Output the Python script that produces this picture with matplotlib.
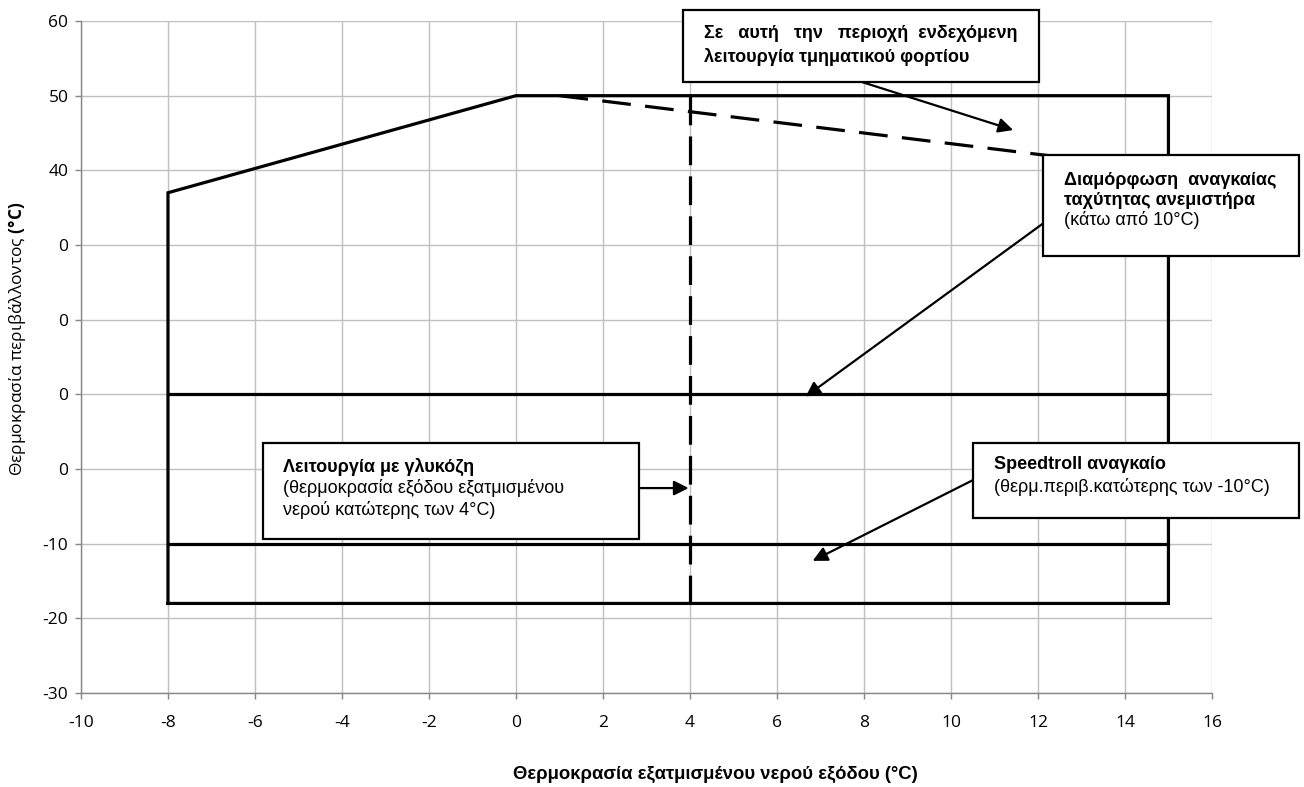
import matplotlib
matplotlib.use("Agg")
import matplotlib.pyplot as plt
from matplotlib.patches import Rectangle

# operating envelope (outline)
env_x = [-8, -8, 0, 15, 15, -8]
env_y = [-18, 37, 50, 50, -18, -18]
# horizontal limits inside the envelope
lim_x = [-8, 15]
lim_10 = [10, 10]
lim_m10 = [-10, -10]
# partial load boundary (dashed)
part_x = [1, 15]
part_y = [50, 40]
# glycol limit (dashed)
gly_x = [4, 4]
gly_y = [50, -18]

x_ticks = [-10, -8, -6, -4, -2, 0, 2, 4, 6, 8, 10, 12, 14, 16]
y_ticks = [60, 50, 40, 30, 20, 10, 0, -10, -20, -30]
y_tick_labels = ["60", "50", "40", "0", "0", "0", "0", "-10", "-20", "-30"]

xlabel = "Θερμοκρασία εξατμισμένου νερού εξόδου (°C)"
ylabel = r"Θερμοκρασία περιβάλλοντος $\mathbf{(°C)}$"

tick_font = ["Open Sans", "DejaVu Sans"]
box_font = ["Liberation Sans", "DejaVu Sans"]

plt.rcParams["mathtext.fontset"] = "custom"
plt.rcParams["mathtext.rm"] = "Open Sans"
plt.rcParams["mathtext.bf"] = "Open Sans:bold"

fig = plt.figure(figsize=(13.04, 7.87), dpi=100)
ax = fig.add_axes([0.0621, 0.1194, 0.8673, 0.8539])

lw = 2.3
ax.plot(env_x, env_y, color="black", lw=lw, solid_joinstyle="miter", zorder=3)
ax.plot(lim_x, lim_10, color="black", lw=lw, zorder=3)
ax.plot(lim_x, lim_m10, color="black", lw=lw, zorder=3)
ax.plot(part_x, part_y, color="black", lw=lw, dashes=(9, 4.5), zorder=3)
ax.plot(gly_x, gly_y, color="black", lw=lw, dashes=(9, 3.5), zorder=3)

ax.set_xlim(-10, 16)
ax.set_ylim(-30, 60)
ax.set_xticks(x_ticks)
ax.set_yticks(y_ticks)
ax.set_xticklabels([str(v) for v in x_ticks], family=tick_font, fontsize=12.5)
ax.set_yticklabels(y_tick_labels, family=tick_font, fontsize=12.5)
ax.grid(True, color="#c0c0c0", lw=1.0, zorder=0)
ax.set_axisbelow(True)
for s in ["top", "right"]:
    ax.spines[s].set_visible(False)
for s in ["left", "bottom"]:
    ax.spines[s].set_color("#868686")
    ax.spines[s].set_linewidth(1.0)
ax.tick_params(direction="out", length=4, color="#868686", width=1.0, pad=5)
ax.tick_params(axis="x", pad=12)

ax.set_xlabel(xlabel, family=box_font, fontsize=13.3, fontweight="bold", va="top")
ax.xaxis.set_label_coords(0.561, -0.108)
ax.set_ylabel(ylabel, family=tick_font, fontsize=12.5)
ax.yaxis.set_label_coords(-0.047, 0.527)


def box(x0, y0, x1, y1):
    r = Rectangle((x0, y0), x1 - x0, y1 - y0, facecolor="white", edgecolor="black",
                  lw=1.6, zorder=5, clip_on=False)
    ax.add_patch(r)


def line(x, y, s, bold=False):
    ax.text(x, y, s, family=box_font, fontsize=13, fontweight="bold" if bold else "normal",
            ha="left", va="baseline", zorder=6, clip_on=False)


def arrow(x0, y0, x1, y1):
    ax.annotate("", xy=(x1, y1), xytext=(x0, y0), zorder=4,
                arrowprops=dict(arrowstyle="-|>", color="black", lw=1.6,
                                mutation_scale=22, shrinkA=0, shrinkB=0))


# top box
box(3.83, 51.8, 12.03, 61.5)
line(4.32, 57.7, "Σε   αυτή   την   περιοχή  ενδεχόμενη", True)
line(4.32, 54.5, "λειτουργία τμηματικού φορτίου", True)
arrow(7.97, 51.8, 11.43, 45.4)

# fan speed box
box(12.12, 28.5, 18.0, 42.05)
line(12.6, 38.0, "Διαμόρφωση  αναγκαίας", True)
line(12.6, 35.4, "ταχύτητας ανεμιστήρα", True)
line(12.6, 32.7, "(κάτω από 10°C)")
arrow(12.12, 32.9, 6.66, 9.7)

# glycol box
box(-5.81, -9.38, 2.84, 3.48)
line(-5.35, -0.4, "Λειτουργία με γλυκόζη", True)
line(-5.35, -3.2, "(θερμοκρασία εξόδου εξατμισμένου")
line(-5.35, -6.2, "νερού κατώτερης των 4°C)")
arrow(2.70, -2.55, 3.97, -2.55)

# speedtroll box
box(10.51, -6.56, 18.0, 3.48)
line(11.0, 0.0, "Speedtroll αναγκαίο", True)
line(11.0, -3.1, "(θερμ.περιβ.κατώτερης των -10°C)")
arrow(10.51, -1.47, 6.82, -12.3)

fig.savefig("out.png", dpi=100)
